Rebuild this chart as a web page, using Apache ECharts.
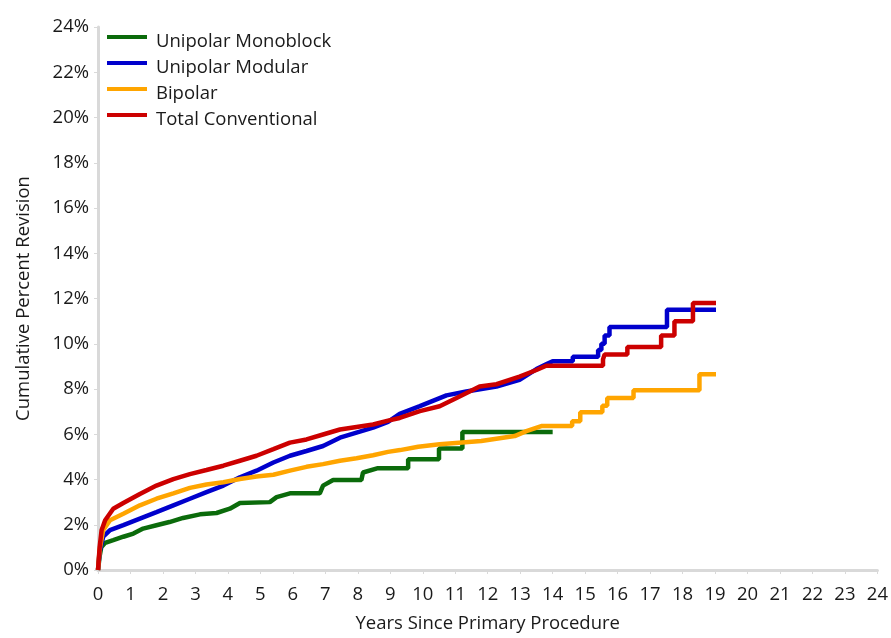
<!DOCTYPE html>
<html><head><meta charset="utf-8">
<script src="https://cdn.jsdelivr.net/npm/echarts@6/dist/echarts.min.js"></script>
<style>html,body{margin:0;padding:0;background:#fff}#c{width:891px;height:638px}</style>
</head><body><div id="c"></div>
<script>
const seriesNames = ['Unipolar Monoblock','Unipolar Modular','Bipolar','Total Conventional'];
const seriesColors = ['#0b6b0b','#0000cc','#ffa500','#cc0000'];
const xTicks = [0,24,1];
const yTicks = [0,24,2];

const monoblock = [[0,0],[0.05,0.6],[0.1,1.0],[0.22,1.2],[0.47,1.32],[0.78,1.47],[1.09,1.61],[1.39,1.83],[1.8,1.98],[2.2,2.12],[2.62,2.3],[3.14,2.46],[3.65,2.52],[4.06,2.71],[4.37,2.96],[5.29,3.0],[5.5,3.22],[5.91,3.39],[6.83,3.39],[6.93,3.73],[7.24,3.98],[8.11,3.98],[8.16,4.31],[8.62,4.5],[9.55,4.5],[9.55,4.9],[10.5,4.9],[10.5,5.37],[11.22,5.37],[11.22,6.1],[14.0,6.1]];
const modular = [[0,0],[0.05,0.8],[0.16,1.47],[0.37,1.76],[0.78,1.98],[1.29,2.27],[1.8,2.56],[2.32,2.86],[2.83,3.15],[3.34,3.44],[3.86,3.73],[4.37,4.1],[4.88,4.39],[5.4,4.75],[5.91,5.05],[6.42,5.26],[6.93,5.48],[7.45,5.85],[7.96,6.07],[8.47,6.29],[8.93,6.55],[9.29,6.9],[9.91,7.24],[10.73,7.72],[11.34,7.89],[12.27,8.11],[12.98,8.4],[13.5,8.88],[13.8,9.09],[14.0,9.23],[14.62,9.23],[14.62,9.42],[15.4,9.42],[15.4,9.72],[15.5,9.72],[15.5,10.0],[15.6,10.0],[15.6,10.37],[15.75,10.37],[15.75,10.74],[17.52,10.74],[17.52,11.5],[19.03,11.5]];
const bipolar = [[0,0],[0.05,0.9],[0.16,1.76],[0.37,2.2],[0.78,2.49],[1.29,2.86],[1.8,3.15],[2.32,3.39],[2.83,3.63],[3.34,3.78],[3.86,3.88],[4.37,4.02],[4.88,4.13],[5.4,4.21],[5.91,4.39],[6.42,4.56],[6.93,4.68],[7.45,4.83],[7.96,4.94],[8.47,5.07],[8.93,5.22],[9.3,5.3],[9.86,5.45],[10.52,5.56],[11.8,5.7],[12.11,5.77],[12.83,5.92],[13.19,6.14],[13.65,6.36],[14.6,6.36],[14.6,6.58],[14.85,6.58],[14.85,6.97],[15.53,6.97],[15.53,7.26],[15.68,7.26],[15.68,7.6],[16.49,7.6],[16.49,7.94],[18.52,7.94],[18.52,8.65],[19.03,8.65]];
const totalConv = [[0,0],[0.05,1.0],[0.11,1.76],[0.22,2.2],[0.47,2.71],[0.78,2.96],[1.29,3.36],[1.8,3.73],[2.32,4.02],[2.83,4.24],[3.34,4.42],[3.86,4.61],[4.37,4.83],[4.88,5.05],[5.4,5.34],[5.91,5.63],[6.42,5.77],[6.93,5.99],[7.45,6.21],[7.96,6.32],[8.47,6.43],[8.93,6.6],[9.29,6.72],[9.91,7.02],[10.52,7.24],[11.04,7.6],[11.75,8.11],[12.27,8.21],[12.98,8.55],[13.5,8.84],[13.8,9.03],[15.55,9.03],[15.55,9.31],[15.6,9.53],[16.3,9.53],[16.3,9.86],[17.34,9.86],[17.34,10.37],[17.75,10.37],[17.75,10.99],[18.32,10.99],[18.32,11.8],[19.03,11.8]];

const allData = [monoblock, modular, bipolar, totalConv];
const FONT = 'Open Sans';
const FS = 18.5;
const chart = echarts.init(document.getElementById('c'));
chart.setOption({
  animation: false,
  grid: {left: 98, right: 13, top: 27, bottom: 64, containLabel: false},
  legend: {
    left: 102, top: 26, orient: 'vertical',
    icon: 'path://M0,0H40V4H0Z M0,12.99H0.01V13H0Z', itemWidth: 40, itemHeight: 13, itemGap: 5,
    textStyle: {fontFamily: FONT, fontSize: FS, color: '#1a1a1a', lineHeight: 21, padding: [0,0,0,4]},
    data: seriesNames
  },
  xAxis: {
    type: 'value', min: xTicks[0], max: xTicks[1], interval: xTicks[2],
    name: 'Years Since Primary Procedure', nameLocation: 'middle', nameGap: 44,
    nameTextStyle: {fontFamily: FONT, fontSize: FS, color: '#1a1a1a'},
    axisLine: {lineStyle: {color: '#d9d9d9', width: 3}},
    axisTick: {show: true, length: 4, lineStyle: {color: '#d9d9d9'}},
    axisLabel: {fontFamily: FONT, fontSize: FS, color: '#1a1a1a', margin: 15},
    splitLine: {show: false}
  },
  yAxis: {
    type: 'value', min: yTicks[0], max: yTicks[1], interval: yTicks[2],
    name: 'Cumulative Percent Revision', nameLocation: 'middle', nameGap: 65,
    nameTextStyle: {fontFamily: FONT, fontSize: FS, color: '#1a1a1a'},
    axisLine: {show: true, lineStyle: {color: '#d9d9d9', width: 3}},
    axisTick: {show: true, length: 4, lineStyle: {color: '#d9d9d9'}},
    axisLabel: {fontFamily: FONT, fontSize: FS, color: '#1a1a1a', margin: 9, formatter: '{value}%'},
    splitLine: {show: false}
  },
  series: seriesNames.map((n, i) => ({
    name: n, type: 'line', data: allData[i], showSymbol: false, symbol: 'none',
    color: seriesColors[i], lineStyle: {width: 4.5, color: seriesColors[i]}, z: 2 + i
  }))
});
</script></body></html>
